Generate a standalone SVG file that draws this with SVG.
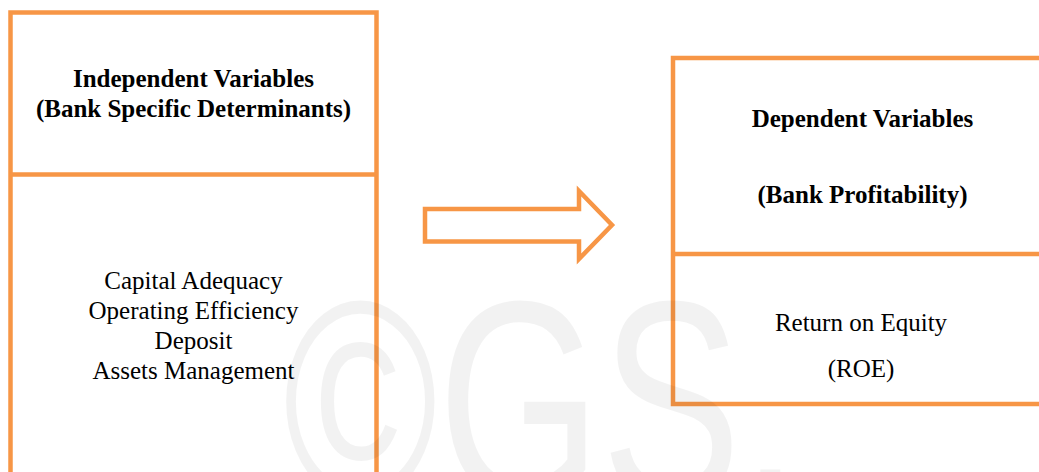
<svg xmlns="http://www.w3.org/2000/svg" width="1039" height="472" viewBox="0 0 1039 472">
<style>
.box{fill:none;stroke:#F79646;stroke-width:4.5}
.hd{font-family:"Times New Roman","Liberation Serif",Tinos,"DejaVu Serif",serif;font-size:25px;font-weight:bold;fill:#000;text-anchor:middle}
.tx{font-family:"Times New Roman","Liberation Serif",Tinos,"DejaVu Serif",serif;font-size:25px;fill:#000;text-anchor:middle}
.wm{font-family:"Liberation Sans",Arial,sans-serif;font-size:210px;fill:#000;fill-opacity:0.05}
</style>
<rect width="1039" height="472" fill="#fff"/>
<g id="independent">
<rect class="box" x="10.5" y="12.5" width="366" height="500"/>
<line class="box" x1="10.5" y1="174.5" x2="376.5" y2="174.5"/>
<text class="hd" x="193.5" y="86.5">Independent Variables</text>
<text class="hd" x="193.5" y="116.5">(Bank Specific Determinants)</text>
<text class="tx" x="193.5" y="289">Capital Adequacy</text>
<text class="tx" x="193.5" y="319">Operating Efficiency</text>
<text class="tx" x="193.5" y="349">Deposit</text>
<text class="tx" x="193.5" y="379">Assets Management</text>
</g>
<g id="dependent">
<rect class="box" x="673" y="58" width="380" height="346"/>
<line class="box" x1="673" y1="254" x2="1053" y2="254"/>
<text class="hd" x="862.5" y="127">Dependent Variables</text>
<text class="hd" x="862.5" y="203">(Bank Profitability)</text>
<text class="tx" x="861" y="331">Return on Equity</text>
<text class="tx" x="861" y="377">(ROE)</text>
</g>
<g id="connectors">
<path class="box" d="M425,209 H579 V191 L612,225 L579,259 V241.5 H425 Z"/>
</g>
<text class="wm" transform="translate(283,500) scale(1,1.36)">©GS.</text>
</svg>
